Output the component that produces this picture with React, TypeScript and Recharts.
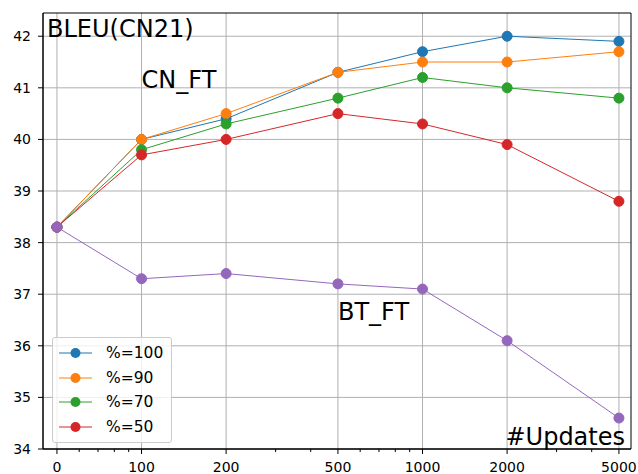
import {
  LineChart,
  Line,
  XAxis,
  YAxis,
  CartesianGrid,
  ReferenceArea,
  ReferenceDot,
  Label,
  Legend,
} from "recharts";

// number of updates (x), "0" is drawn at 50 on the log axis
const updates = [0, 100, 200, 500, 1000, 2000, 5000];
const ZERO_AT = 50;

const pct100 = [38.3, 40.0, 40.4, 41.3, 41.7, 42.0, 41.9];
const pct90 = [38.3, 40.0, 40.5, 41.3, 41.5, 41.5, 41.7];
const pct70 = [38.3, 39.8, 40.3, 40.8, 41.2, 41.0, 40.8];
const pct50 = [38.3, 39.7, 40.0, 40.5, 40.3, 39.9, 38.8];
const btFt = [38.3, 37.3, 37.4, 37.2, 37.1, 36.1, 34.6];

const yTicks = [34, 35, 36, 37, 38, 39, 40, 41, 42];
const majorX = [ZERO_AT, 100, 200, 500, 1000, 2000, 5000];
const minorX = [60, 70, 80, 90, 300, 400, 600, 700, 800, 900, 3000, 4000];

const series = [
  { key: "p100", name: "%=100", color: "#1f77b4", values: pct100 },
  { key: "p90", name: "%=90", color: "#ff7f0e", values: pct90 },
  { key: "p70", name: "%=70", color: "#2ca02c", values: pct70 },
  { key: "p50", name: "%=50", color: "#d62728", values: pct50 },
];

const data = updates.map((u, i) => {
  const row: any = { x: u === 0 ? ZERO_AT : u, bt: btFt[i] };
  series.forEach((s) => (row[s.key] = s.values[i]));
  return row;
});

const FONT = "DejaVu Sans, sans-serif";
const X_DOMAIN = [44.6, 5520];
const Y_DOMAIN = [34, 42.45];

const XTick = (props: any) => {
  const { x, y, payload } = props;
  const major = majorX.includes(payload.value);
  return (
    <g>
      <line x1={x} x2={x} y1={y} y2={y + (major ? 5 : 3)} stroke="#000" strokeWidth={1} />
      {major && (
        <text x={x} y={y + 13} dy="0.71em" textAnchor="middle" fontSize={14} fontFamily={FONT} fill="#000">
          {payload.value === ZERO_AT ? "0" : payload.value}
        </text>
      )}
    </g>
  );
};

const renderLegend = () => (
  <div
    style={{
      width: 120,
      boxSizing: "border-box",
      padding: "3px 6px",
      border: "1px solid #cccccc",
      borderRadius: 3,
      background: "rgba(255,255,255,0.8)",
      fontFamily: FONT,
      fontSize: 15.5,
    }}
  >
    {series.map((s) => (
      <div key={s.key} style={{ display: "flex", alignItems: "center", height: 24.6 }}>
        <svg width={33} height={14} style={{ marginRight: 14 }}>
          <line x1={0} x2={33} y1={7} y2={7} stroke={s.color} strokeWidth={1} />
          <circle cx={16.5} cy={7} r={5} fill={s.color} />
        </svg>
        <span>{s.name}</span>
      </div>
    ))}
  </div>
);

const textLabel = (value: string, x: number, y: number, anchor = "start") => (
  <text x={x} y={y} textAnchor={anchor} fontSize={24} fontFamily={FONT} fill="#000">
    {value}
  </text>
);

export default function App() {
  return (
    <div style={{ position: "absolute", left: 0, top: 0, background: "#fff" }}>
      <LineChart width={638} height={474} data={data} margin={{ top: 13, right: 7, left: 3, bottom: 0 }}>
        <CartesianGrid verticalValues={majorX} horizontalValues={yTicks} stroke="#b0b0b0" strokeWidth={1} />
        <XAxis
          dataKey="x"
          type="number"
          scale="log"
          domain={X_DOMAIN}
          allowDataOverflow
          ticks={[...majorX, ...minorX]}
          interval={0}
          tick={<XTick />}
          tickLine={false}
          tickSize={0}
          tickMargin={0}
          height={25}
          axisLine={{ stroke: "#000" }}
        />
        <YAxis
          type="number"
          domain={Y_DOMAIN}
          allowDataOverflow
          ticks={yTicks}
          interval={0}
          width={40}
          tickSize={5}
          tickMargin={7}
          tick={{ fontSize: 14, fontFamily: FONT, fill: "#000" }}
          tickLine={{ stroke: "#000" }}
          axisLine={{ stroke: "#000" }}
        />
        {series.map((s) => (
          <Line
            key={s.key}
            dataKey={s.key}
            name={s.name}
            stroke={s.color}
            strokeWidth={1}
            dot={{ r: 5, fill: s.color, stroke: s.color, strokeWidth: 1 }}
            isAnimationActive={false}
          />
        ))}
        <Line
          dataKey="bt"
          stroke="#9467bd"
          strokeWidth={1}
          dot={{ r: 5, fill: "#9467bd", stroke: "#9467bd", strokeWidth: 1 }}
          legendType="none"
          isAnimationActive={false}
        />
        <ReferenceArea
          x1={X_DOMAIN[0]}
          x2={X_DOMAIN[1]}
          y1={Y_DOMAIN[0]}
          y2={Y_DOMAIN[1]}
          fill="none"
          stroke="#000"
          strokeWidth={1}
          ifOverflow="extendDomain"
        >
          <Label content={({ viewBox }: any) => textLabel("BLEU(CN21)", viewBox.x + 4, viewBox.y + 24)} />
          <Label
            content={({ viewBox }: any) =>
              textLabel("#Updates", viewBox.x + viewBox.width - 6, viewBox.y + viewBox.height - 4, "end")
            }
          />
        </ReferenceArea>
        <ReferenceDot x={100} y={41} r={0} shape={(p: any) => textLabel("CN_FT", p.cx, p.cy)} />
        <ReferenceDot x={500} y={36.5} r={0} shape={(p: any) => textLabel("BT_FT", p.cx, p.cy)} />
        <Legend
          layout="vertical"
          align="center"
          verticalAlign="middle"
          content={renderLegend}
          wrapperStyle={{ left: 52, top: 337, width: 120 }}
        />
      </LineChart>
    </div>
  );
}
